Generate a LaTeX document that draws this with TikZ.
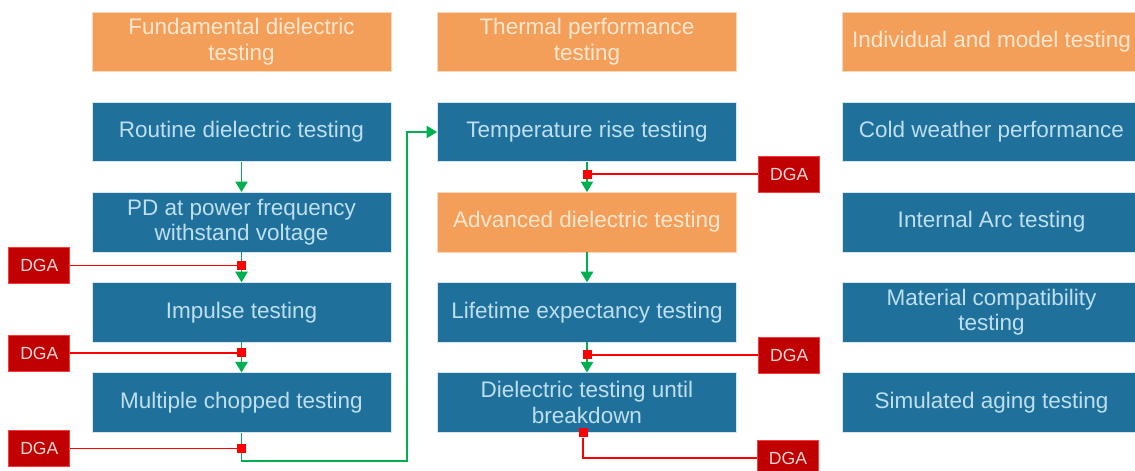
\documentclass[tikz,border=0pt]{standalone}
\usepackage{fontspec}
\setmainfont{Liberation Sans}
\usepackage{xcolor}
\usetikzlibrary{positioning, arrows.meta}
\definecolor{boxBlue}{RGB}{31,113,155}
\definecolor{boxEdge}{RGB}{214,230,240}
\definecolor{textBlue}{RGB}{190,222,242}
\definecolor{headOrange}{RGB}{244,159,89}
\definecolor{headEdge}{RGB}{251,215,185}
\definecolor{textCream}{RGB}{255,231,208}
\definecolor{dgaRed}{RGB}{192,0,0}
\definecolor{dgaEdge}{RGB}{255,60,60}
\definecolor{dgaText}{RGB}{250,215,215}
\definecolor{flowGreen}{RGB}{0,176,80}
\definecolor{tapRed}{RGB}{255,0,0}

\begin{document}
\begin{tikzpicture}[
			test/.style={
				rectangle,
				draw=boxEdge,
				fill=boxBlue,
				text=textBlue,
				minimum width=5.98cm,
				minimum height=1.19cm,
				inner sep=2pt,
				align=center,
				font=\fontsize{12.8}{14.5}\selectfont
			},
			heading/.style={
				test,
				draw=headEdge,
				fill=headOrange,
				text=textCream
			},
			dga/.style={
				rectangle,
				draw=dgaEdge,
				fill=dgaRed,
				text=dgaText,
				minimum width=1.22cm,
				minimum height=0.72cm,
				inner sep=0pt,
				font=\fontsize{10}{12}\selectfont
			},
			tap/.style={
				rectangle,
				fill=tapRed,
				minimum size=0.18cm,
				inner sep=0pt
			},
			flow/.style={
				draw=flowGreen,
				line width=0.9pt,
				-{Triangle[width=7pt,length=6pt]}
			},
			dgaline/.style={
				draw=tapRed,
				line width=0.8pt
			}
			]
			
			% Picture frame
			\clip (0,0) rectangle (22.7,-9.4);
			
			% Headings
			\node[heading] (headA) at (4.83,-0.835) {Fundamental dielectric\\testing};
			\node[heading] (headB) at (11.74,-0.835) {Thermal performance\\testing};
			\node[heading] (headC) at (19.83,-0.835) {Individual and model testing};
			
			% Fundamental dielectric column
			\node[test, below=0.6cm of headA] (routine) {Routine dielectric testing};
			\node[test, below=0.6cm of routine] (pd) {PD at power frequency\\withstand voltage};
			\node[test, below=0.6cm of pd] (impulse) {Impulse testing};
			\node[test, below=0.6cm of impulse] (chopped) {Multiple chopped testing};
			
			% Thermal performance column
			\node[test, below=0.6cm of headB] (temp) {Temperature rise testing};
			\node[heading, below=0.6cm of temp] (advanced) {Advanced dielectric testing};
			\node[test, below=0.6cm of advanced] (lifetime) {Lifetime expectancy testing};
			\node[test, below=0.6cm of lifetime] (breakdown) {Dielectric testing until\\breakdown};
			
			% Individual and model column
			\node[test, below=0.6cm of headC] (cold) {Cold weather performance};
			\node[test, below=0.6cm of cold] (arc) {Internal Arc testing};
			\node[test, below=0.6cm of arc] (material) {Material compatibility\\testing};
			\node[test, below=0.6cm of material] (aging) {Simulated aging testing};
			
			% Test sequence
			\draw[flow] (routine) -- (pd);
			\draw[flow] (pd) -- (impulse);
			\draw[flow] (impulse) -- (chopped);
			\draw[flow] (temp) -- (advanced);
			\draw[flow] (advanced) -- (lifetime);
			\draw[flow] (lifetime) -- (breakdown);
			\coordinate (bend) at (8.14,-9.22);
			\draw[flow] (chopped) |- (bend) |- (temp);
			
			% Sampling points
			\node[tap] (tap1) at ([yshift=-0.26cm]pd.south) {};
			\node[tap] (tap2) at ([yshift=-0.21cm]impulse.south) {};
			\node[tap] (tap3) at ([yshift=-0.32cm]chopped.south) {};
			\node[tap] (tap4) at ([yshift=-0.24cm]temp.south) {};
			\node[tap] (tap5) at ([yshift=-0.25cm]lifetime.south) {};
			\node[tap] (tap6) at ([xshift=-0.08cm]breakdown.south) {};
			
			% DGA boxes
			\node[dga, left=3.33cm of tap1] (dga1) {DGA};
			\node[dga, left=3.33cm of tap2] (dga2) {DGA};
			\node[dga, left=3.33cm of tap3] (dga3) {DGA};
			\node[dga, right=3.33cm of tap4] (dga4) {DGA};
			\node[dga, right=3.33cm of tap5] (dga5) {DGA};
			\node[dga] (dga6) at (15.76,-9.16) {DGA};
			
			% DGA lines
			\draw[dgaline] (dga1) -- (tap1);
			\draw[dgaline] (dga2) -- (tap2);
			\draw[dgaline] (dga3) -- (tap3);
			\draw[dgaline] (dga4) -- (tap4);
			\draw[dgaline] (dga5) -- (tap5);
			\draw[dgaline] (tap6) |- (dga6);
			
		\end{tikzpicture}
\end{document}
